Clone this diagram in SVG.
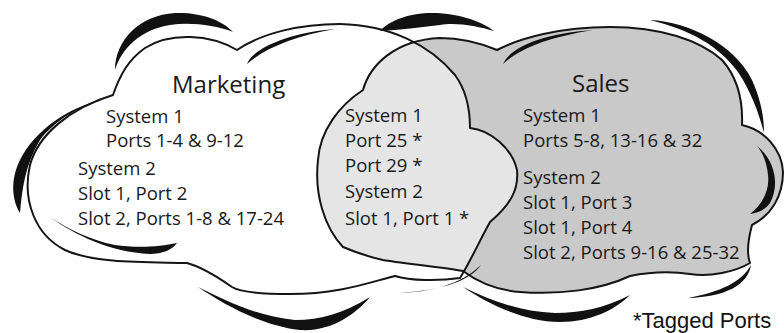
<svg xmlns="http://www.w3.org/2000/svg" width="784" height="333" viewBox="0 0 784 333">
<style>
.outline{fill:none;stroke:#151515;stroke-width:2;stroke-linejoin:round}
.swoosh{fill:#111}
.t{font-family:"Open Sans","DejaVu Sans",sans-serif;font-size:18.5px;fill:#1a1a1a}
.h{font-family:"Open Sans","DejaVu Sans",sans-serif;font-size:24px;fill:#1a1a1a}
.note{font-family:"Liberation Sans",Arial,sans-serif;font-size:22px;fill:#111}
</style>
<defs>
<path id="mkt" d="M 113,95 C 120,75 128,60 145,48 C 170,32 210,34 237,50 C 262,33 300,24 340,24 C 390,25 430,45 455,75 C 466,90 470,110 470,128 C 490,130 512,148 517,170 C 519,190 510,205 490,222 C 480,240 470,262 460,278 C 440,281 410,281 395,276 C 370,282 340,294 290,294 C 260,294 240,292 232,287 C 222,280 205,268 187,263 C 150,262 95,264 65,250 C 35,235 22,200 30,165 C 38,135 70,108 113,95 Z"/>
<path id="sls" d="M 497,50 C 520,38 560,27 610,27 C 660,27 700,40 722,60 C 738,78 743,100 742,125 C 765,130 782,150 783,172 C 783,195 772,215 752,225 C 748,240 747,255 750,263 C 735,272 710,277 690,274 C 670,271 650,272 630,276 C 600,290 560,295 520,292 C 495,290 475,280 463,271 C 440,267 400,263 383,260 C 365,256 350,250 343,247 C 325,228 314,195 318,160 C 320,130 340,105 363,90 C 370,65 395,40 440,38 C 465,38 485,45 497,50 Z"/>
<clipPath id="salesClip"><use href="#sls"/></clipPath>
</defs>
<rect width="784" height="333" fill="#fff"/>
<g id="marketing-cloud">
<use href="#mkt" fill="#fff"/>
</g>
<g id="sales-cloud">
<use href="#sls" fill="#c9c9c9"/>
</g>
<g id="overlap">
<use href="#mkt" fill="#e5e5e5" clip-path="url(#salesClip)"/>
</g>
<g id="swooshes">
<path class="swoosh" d="M 115,70 C 115,40 140,15 175,13 C 200,12 222,20 233,32 C 215,25 190,22 170,25 C 140,30 122,48 115,70 Z"/>
<path class="swoosh" d="M 247,64 C 252,50 285,33 335,29 C 295,36 265,48 247,64 Z"/>
<path class="swoosh" d="M 380,31 C 390,20 410,13 432,13 C 455,13 480,20 494,31 C 478,26 455,22 440,25 C 420,27 400,30 380,31 Z"/>
<path class="swoosh" d="M 503,64 C 510,48 540,34 593,30 C 550,37 520,48 503,64 Z"/>
<path class="swoosh" d="M 650,20 C 690,22 735,45 752,80 C 760,98 764,115 764,133 C 758,110 750,90 738,72 C 718,45 690,30 650,20 Z"/>
<path class="swoosh" d="M 757,146 C 775,160 780,185 770,203 C 765,210 758,213 750,214 C 762,205 770,190 768,175 C 767,163 763,153 757,146 Z"/>
<path class="swoosh" d="M 751,265 C 748,285 725,297 688,298 C 720,292 742,282 751,265 Z"/>
<path class="swoosh" d="M 400,293 C 430,292 460,285 481,265 C 470,280 445,290 400,293 Z"/>
<path class="swoosh" d="M 463,287 C 490,305 525,322 560,322 C 590,322 615,310 630,295 C 605,308 580,313 555,313 C 520,312 490,300 463,287 Z"/>
<path class="swoosh" d="M 198,287 C 225,305 260,325 300,330 C 330,332 355,315 370,297 C 345,313 320,320 295,320 C 255,316 225,300 198,287 Z"/>
<path class="swoosh" d="M 50,217 C 75,235 110,252 150,254 C 162,254 172,250 177,243 C 160,247 135,248 115,245 C 90,240 70,230 50,217 Z"/>
<path class="swoosh" d="M 103,100 C 70,106 35,130 20,160 C 10,180 12,200 20,213 C 22,190 25,165 40,140 C 55,120 80,106 103,100 Z"/>
</g>
<g id="outlines">
<use href="#sls" class="outline"/>
<use href="#mkt" class="outline"/>
</g>
<g id="marketing-text">
<text class="h" x="172" y="93">Marketing</text>
<text class="t" x="106" y="123">System 1</text>
<text class="t" x="106" y="147">Ports 1-4 &amp; 9-12</text>
<text class="t" x="78" y="175">System 2</text>
<text class="t" x="78" y="200">Slot 1, Port 2</text>
<text class="t" x="78" y="225">Slot 2, Ports 1-8 &amp; 17-24</text>
</g>
<g id="overlap-text">
<text class="t" x="345" y="122">System 1</text>
<text class="t" x="345" y="147">Port 25 *</text>
<text class="t" x="345" y="172">Port 29 *</text>
<text class="t" x="345" y="198">System 2</text>
<text class="t" x="345" y="225">Slot 1, Port 1 *</text>
</g>
<g id="sales-text">
<text class="h" x="572" y="92">Sales</text>
<text class="t" x="523" y="122">System 1</text>
<text class="t" x="523" y="147">Ports 5-8, 13-16 &amp; 32</text>
<text class="t" x="523" y="184">System 2</text>
<text class="t" x="523" y="209">Slot 1, Port 3</text>
<text class="t" x="523" y="234">Slot 1, Port 4</text>
<text class="t" x="523" y="259">Slot 2, Ports 9-16 &amp; 25-32</text>
</g>
<g id="legend">
<text class="note" x="633" y="328">*Tagged Ports</text>
</g>
</svg>
